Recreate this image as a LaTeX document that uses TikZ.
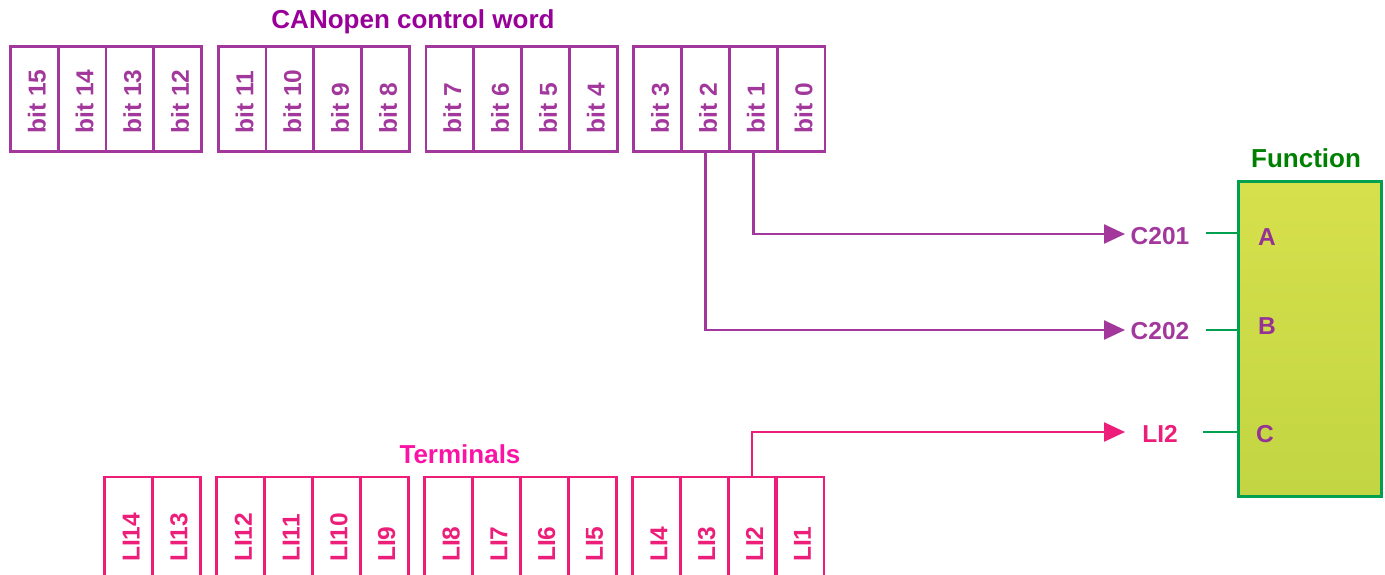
\documentclass[tikz,border=0pt]{standalone}
\usepackage{fontspec}
\setmainfont{Liberation Sans}
\usetikzlibrary{arrows.meta,calc}
\definecolor{bitc}{RGB}{162,56,156}
\definecolor{titlec}{RGB}{153,0,153}
\definecolor{termc}{RGB}{236,30,121}
\definecolor{termtitle}{RGB}{250,20,165}
\definecolor{ftitle}{RGB}{0,128,0}
\definecolor{fborder}{RGB}{0,160,80}
\definecolor{portc}{RGB}{150,50,150}
\definecolor{ftop}{RGB}{214,224,76}
\definecolor{fbot}{RGB}{194,213,66}
\tikzset{
  big/.style={font=\bfseries\fontsize{26}{30}\selectfont},
  lab/.style={font=\bfseries\fontsize{24.5}{28}\selectfont},
  bitcell/.style={draw=bitc,line width=2.8pt,minimum width=47.8pt,minimum height=105pt,inner sep=0pt,anchor=north west},
  termcell/.style={minimum width=47.8pt,minimum height=110pt,inner sep=0pt,anchor=north west},
  celltext/.style={lab,rotate=90,anchor=west,inner sep=0pt},
  pline/.style={line width=2.5pt,line join=miter},
  tip/.style={-{Triangle[length=21pt,width=19pt]}},
  gline/.style={draw=fborder,line width=2.8pt},
}
\begin{document}
\begin{tikzpicture}[x=1pt,y=-1pt]
\useasboundingbox (0,0) rectangle (1385,575);
% title
\node[big,text=titlec] (cantitle) at (413,22) {CANopen control word};
% bit cells
\foreach \i in {0,...,15}{
  \pgfmathtruncatemacro{\k}{15-\i}
  \pgfmathtruncatemacro{\g}{floor(\k/4)}
  \pgfmathtruncatemacro{\j}{mod(\k,4)}
  \pgfmathsetmacro{\xl}{9+207.8*\g+47.8*\j}
  \node[bitcell] (b\i) at (\xl,45) {};
  \node[celltext,text=bitc] (lb\i) at ($(b\i.south)+(2.5,-19)$) {bit \i};
}
% terminals
\node[big,text=termtitle] (termtitle) at (460,454) {Terminals};
\foreach \n in {1,...,14}{
  \pgfmathtruncatemacro{\k}{16-\n}
  \pgfmathtruncatemacro{\g}{floor(\k/4)}
  \pgfmathtruncatemacro{\j}{mod(\k,4)}
  \pgfmathsetmacro{\xl}{9+207.8*\g+47.8*\j}
  \node[termcell] (t\n) at (\xl,477) {};
  \draw[termc,line width=2.8pt] (t\n.south west) -- (t\n.north west) -- (t\n.north east) -- (t\n.south east);
  \node[celltext,text=termc] (lt\n) at ($(t\n.north)+(2.5,85)$) {LI\n};
}
% function block
\node[big,text=ftitle] (ftitle) at (1306,158) {Function};
\node[draw=fborder,line width=2.8pt,top color=ftop,bottom color=fbot,minimum width=143pt,minimum height=315pt,anchor=north west,inner sep=0pt] (fn) at (1237,180) {};
\node[lab,text=portc] (pa) at (1267,237) {A};
\node[lab,text=portc] (pb) at (1267,326) {B};
\node[lab,text=portc] (pc) at (1265,434) {C};
% input labels
\node[lab,text=bitc,inner sep=0pt] (c201) at (1160,236) {C201};
\node[lab,text=bitc,inner sep=0pt] (c202) at (1160,331) {C202};
\node[lab,text=termc,inner sep=0pt] (li2) at (1160,434) {LI2};
\coordinate (ga) at (1206,233);
\coordinate (gb) at (1206,330);
\coordinate (gc) at (1203,432);
\coordinate (ea) at (1125,234);
\coordinate (eb) at (1125,330);
\coordinate (ec) at (1125,432);
% connectors
\draw[pline,bitc,tip] (b1.south) |- (ea);
\draw[pline,bitc,tip] (b2.south) |- (eb);
\draw[pline,termc,tip] (t2.north) |- (ec);
\draw[gline] (ga) -- (ga -| fn.west);
\draw[gline] (gb) -- (gb -| fn.west);
\draw[gline] (gc) -- (gc -| fn.west);
\end{tikzpicture}
\end{document}
